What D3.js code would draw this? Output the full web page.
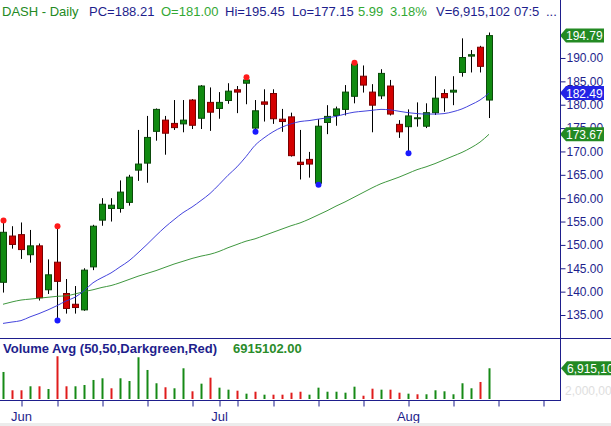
<!DOCTYPE html>
<html>
<head>
<meta charset="utf-8">
<script src="https://cdn.jsdelivr.net/npm/d3@7"></script>
<style>
  body { margin: 0; background: #fff; }
  svg { display: block; font-family: "Liberation Sans", Arial, sans-serif; }
</style>
</head>
<body>
<div id="chart"></div>
<script>
// trading days (2021), the last few are empty slots on the right of the chart
var days = ['05-27','05-28','06-01','06-02','06-03','06-04','06-07','06-08','06-09','06-10','06-11',
  '06-14','06-15','06-16','06-17','06-18','06-21','06-22','06-23','06-24','06-25','06-28','06-29','06-30',
  '07-01','07-02','07-06','07-07','07-08','07-09','07-12','07-13','07-14','07-15','07-16','07-19','07-20',
  '07-21','07-22','07-23','07-26','07-27','07-28','07-29','07-30','08-02','08-03','08-04','08-05','08-06',
  '08-09','08-10','08-11','08-12','08-13','08-16','08-17','08-18','08-19','08-20','08-23','08-24'];

var opens = [142.0,151.9,152.2,147.9,149.8,140.4,146.3,139.6,137.3,136.1,145.3,155.3,157.8,157.8,159.1,
  166.0,167.5,174.3,176.7,176.0,175.9,181.0,177.1,180.5,179.2,180.9,183.2,184.6,175.0,180.6,182.4,176.9,
  177.4,167.7,168.3,163.2,176.2,177.7,179.0,181.8,186.1,182.7,181.9,184.0,175.8,175.3,177.0,175.4,178.3,
  182.4,182.7,186.9,190.4,192.3,181.0];
var highs = [155.2,154.0,154.8,153.2,150.3,146.9,154.0,142.7,141.2,145.0,154.3,160.0,160.0,163.8,165.0,
  174.6,177.6,179.2,177.6,181.0,181.0,181.2,184.2,183.7,182.7,184.6,184.0,185.9,181.0,183.3,183.3,179.1,
  178.3,174.6,169.9,176.9,179.9,179.6,184.2,189.0,188.4,184.4,187.6,185.3,176.7,179.0,180.5,180.3,186.1,
  183.3,186.1,194.2,191.7,192.6,195.45];
var lows = [139.8,149.2,147.0,146.2,138.1,139.5,133.8,135.3,135.3,135.9,144.6,154.1,155.0,156.9,158.4,
  163.7,163.3,172.3,169.3,174.6,174.1,174.8,174.8,174.4,177.0,180.2,178.2,180.1,174.2,176.4,175.9,174.2,
  168.9,164.0,164.4,162.9,173.7,175.5,177.7,180.3,182.6,174.1,181.2,177.7,172.9,169.6,175.3,175.0,177.8,
  178.5,179.9,186.0,186.9,186.9,177.15];
var closes = [152.7,150.1,149.0,149.8,138.7,143.6,142.2,136.4,136.6,144.6,154.0,158.7,158.5,161.3,164.5,
  167.3,173.0,179.0,173.9,175.1,176.7,175.6,184.0,178.4,180.5,182.9,182.7,185.3,178.7,180.1,177.0,176.4,
  169.1,167.2,167.3,175.4,177.5,179.1,182.7,188.7,184.2,179.9,186.7,178.0,174.2,177.6,177.2,178.3,181.4,
  181.5,183.1,190.1,190.7,188.21,194.79];

// volume in millions of shares
var volumes = [6.08,1.96,1.96,2.86,2.86,2.25,9.62,2.86,2.86,3.15,4.28,4.66,2.41,4.66,4.05,9.39,6.53,3.54,
  2.64,2.41,6.91,1.73,3.45,4.80,2.55,2.10,1.87,1.20,1.64,0.97,0.97,0.97,1.42,1.64,0.97,2.55,1.64,1.64,1.42,
  2.77,0.74,2.32,2.10,2.10,1.42,1.20,1.06,1.06,1.96,1.73,1.06,3.54,2.41,3.83,6.915102];

// moving averages as drawn on the chart
var maBlue = [133.2,133.5,133.8,134.6,135.3,136.1,137.0,138.0,138.8,140.2,141.9,143.0,144.0,145.3,146.6,
  148.3,150.1,152.0,153.8,155.4,156.9,158.1,159.5,161.0,162.9,164.9,166.7,168.9,171.3,172.9,174.2,175.2,
  175.9,176.4,176.6,176.9,177.2,177.5,178.0,178.4,178.6,178.8,179.0,178.9,178.6,178.3,178.1,178.0,178.0,
  178.1,178.5,179.1,180.0,181.0,182.49];
var maGreen = [137.3,137.8,138.2,138.4,138.6,138.8,139.0,139.1,139.5,140.0,140.4,140.9,141.3,141.9,142.6,
  143.3,143.9,144.5,145.2,145.9,146.5,147.1,147.6,148.0,148.6,149.4,150.1,150.8,151.3,152.0,152.7,153.4,
  154.1,154.7,155.5,156.4,157.3,158.3,159.2,160.2,161.2,162.2,163.1,163.8,164.5,165.3,166.1,166.7,167.4,
  168.2,169.0,169.8,170.8,172.0,173.67];

var swingHighs = [0, 6, 27, 39];
var swingLows = [6, 28, 35, 45];

var priceTicks = [135,140,145,150,155,160,165,170,175,180,185,190];
var weekTicks = ['06-01','06-07','06-14','06-21','06-28','07-01','07-06','07-12','07-19','07-26',
  '08-02','08-09','08-16','08-23'];
var monthLabels = {'06-01': 'Jun', '07-01': 'Jul', '08-02': 'Aug'};

var navy = '#1e1e8c';
var upFill = '#108a10', upLine = '#0a4a0a';
var downFill = '#d40000', downLine = '#7a0000';

var width = 611, height = 426;
var axisX = 560;

var svg = d3.select('#chart').append('svg')
  .attr('width', width)
  .attr('height', height);

var x = d3.scalePoint()
  .domain(days)
  .range([3, 3 + 9 * (days.length - 1)]);

var y = d3.scaleLinear()
  .domain([130.08, 197.70])
  .range([338, 22]);

var yv = d3.scaleLinear()
  .domain([0, 9])
  .range([399, 359]);

var bars = closes.map(function (c, i) {
  return { day: days[i], o: opens[i], h: highs[i], l: lows[i], c: c, v: volumes[i],
    volUp: i === 0 ? true : c >= closes[i - 1] };
});

// header
var header = [
  { t: 'DASH - Daily', x: 2, c: '#238a23' },
  { t: 'PC=188.21', x: 89, c: navy },
  { t: 'O=181.00', x: 161, c: '#33a833' },
  { t: 'Hi=195.45', x: 225, c: navy },
  { t: 'Lo=177.15', x: 292, c: navy },
  { t: '5.99', x: 358, c: '#33a833' },
  { t: '3.18%', x: 390, c: '#33a833' },
  { t: 'V=6,915,102', x: 436, c: navy },
  { t: '07:5', x: 514, c: navy },
  { t: '...', x: 546, c: navy }
];
svg.append('g').selectAll('text')
  .data(header)
  .enter().append('text')
  .attr('x', function (d) { return d.x; })
  .attr('y', 16)
  .attr('font-size', 13)
  .attr('fill', function (d) { return d.c; })
  .text(function (d) { return d.t; });

// price panel
var price = svg.append('g');
var clip = svg.append('clipPath').attr('id', 'pclip')
  .append('rect').attr('x', 0).attr('y', 22).attr('width', axisX).attr('height', 316);
price.attr('clip-path', 'url(#pclip)');

price.selectAll('.wick')
  .data(bars)
  .enter().append('line')
  .attr('class', 'wick')
  .attr('x1', function (d) { return Math.round(x(d.day)) + 0.5; })
  .attr('x2', function (d) { return Math.round(x(d.day)) + 0.5; })
  .attr('y1', function (d) { return y(d.h); })
  .attr('y2', function (d) { return y(d.l); })
  .attr('stroke', '#000')
  .attr('stroke-width', 1);

price.selectAll('.body')
  .data(bars)
  .enter().append('rect')
  .attr('class', 'body')
  .attr('x', function (d) { return Math.round(x(d.day)) - 3 + 0.5; })
  .attr('width', 6)
  .attr('y', function (d) { return y(Math.max(d.o, d.c)); })
  .attr('height', function (d) { return Math.max(0.5, Math.abs(y(d.o) - y(d.c))); })
  .attr('fill', function (d) { return d.c >= d.o ? upFill : downFill; })
  .attr('stroke', function (d) { return d.c >= d.o ? upLine : downLine; })
  .attr('stroke-width', 1);

var line = function (vals) {
  return d3.line()
    .x(function (d, i) { return x(days[i]); })
    .y(function (d) { return y(d); })
    .curve(d3.curveMonotoneX)(vals);
};

price.append('path')
  .attr('d', line(maGreen))
  .attr('fill', 'none')
  .attr('stroke', '#2a8c2a')
  .attr('stroke-opacity', 0.9)
  .attr('stroke-width', 1);

price.append('path')
  .attr('d', line(maBlue))
  .attr('fill', 'none')
  .attr('stroke', '#3030d8')
  .attr('stroke-opacity', 0.9)
  .attr('stroke-width', 1);

price.selectAll('.hi')
  .data(swingHighs)
  .enter().append('circle')
  .attr('cx', function (i) { return Math.round(x(days[i])) + 0.5; })
  .attr('cy', function (i) { return y(highs[i]); })
  .attr('r', 3)
  .attr('fill', '#ff1a1a');

price.selectAll('.lo')
  .data(swingLows)
  .enter().append('circle')
  .attr('cx', function (i) { return Math.round(x(days[i])) + 0.5; })
  .attr('cy', function (i) { return y(lows[i]); })
  .attr('r', 3)
  .attr('fill', '#1a1aff');

// right price axis
var yAxis = d3.axisRight(y)
  .tickValues(priceTicks)
  .tickSize(5)
  .tickPadding(1)
  .tickFormat(d3.format('.2f'));

var ya = svg.append('g')
  .attr('transform', 'translate(' + (axisX + 0.5) + ',0)')
  .call(yAxis);
ya.select('.domain').remove();
ya.selectAll('line').attr('stroke', navy);
ya.selectAll('text')
  .attr('fill', navy)
  .attr('font-size', 12)
  .attr('font-family', '"Liberation Sans", Arial, sans-serif');

// last value tags
var tags = [
  { v: maGreen[maGreen.length - 1], c: '#238a23' },
  { v: maBlue[maBlue.length - 1], c: '#2323e6' },
  { v: closes[closes.length - 1], c: '#238a23' }
];
var tagG = svg.append('g').selectAll('g')
  .data(tags)
  .enter().append('g')
  .attr('transform', function (d) { return 'translate(' + axisX + ',' + y(d.v) + ')'; });
tagG.append('path')
  .attr('d', 'M0,0 L6,-7 L44,-7 L44,7 L6,7 Z')
  .attr('fill', function (d) { return d.c; });
tagG.append('text')
  .attr('x', 6)
  .attr('y', 4.5)
  .attr('font-size', 12)
  .attr('fill', '#fff')
  .text(function (d) { return d3.format('.2f')(d.v); });

// volume panel
svg.append('text')
  .attr('x', 3)
  .attr('y', 353)
  .attr('font-size', 13)
  .attr('font-weight', 'bold')
  .attr('fill', navy)
  .text('Volume Avg (50,50,Darkgreen,Red)');
svg.append('text')
  .attr('x', 233)
  .attr('y', 353)
  .attr('font-size', 13)
  .attr('font-weight', 'bold')
  .attr('fill', '#2a8c2a')
  .text(d3.format('.2f')(Math.round(volumes[volumes.length - 1] * 1e6)));

svg.selectAll('.vol')
  .data(bars)
  .enter().append('rect')
  .attr('class', 'vol')
  .attr('x', function (d) { return Math.round(x(d.day)) - 0.5; })
  .attr('width', 2)
  .attr('y', function (d) { return yv(d.v); })
  .attr('height', function (d) { return yv(0) - yv(d.v); })
  .attr('fill', function (d) { return d.volUp ? '#168a16' : '#e01c1c'; });

// ghost scale label and last volume tag
svg.append('text')
  .attr('x', axisX + 5)
  .attr('y', yv(2) + 4.5)
  .attr('font-size', 12)
  .attr('fill', '#dedede')
  .text(d3.format(',')(2000000));

var vt = svg.append('g')
  .attr('transform', 'translate(' + (axisX + 1) + ',' + yv(volumes[volumes.length - 1]) + ')');
vt.append('path')
  .attr('d', 'M0,0 L6,-7 L60,-7 L60,7 L6,7 Z')
  .attr('fill', '#238a23');
vt.append('text')
  .attr('x', 6)
  .attr('y', 4.5)
  .attr('font-size', 12)
  .attr('fill', '#fff')
  .text(d3.format(',')(Math.round(volumes[volumes.length - 1] * 1e6)));

// date axis
var xAxis = d3.axisBottom(x)
  .tickValues(weekTicks)
  .tickSize(6)
  .tickPadding(5)
  .tickFormat(function (d) { return monthLabels[d] || ''; });

var xa = svg.append('g')
  .attr('transform', 'translate(0,400.5)')
  .call(xAxis);
xa.select('.domain').remove();
xa.selectAll('line').attr('stroke', navy)
  .attr('transform', function (d) { return 'translate(' + (Math.round(x(d)) - x(d) + 0.5) + ',0)'; });
xa.selectAll('text')
  .attr('fill', navy)
  .attr('font-size', 13)
  .attr('font-family', '"Liberation Sans", Arial, sans-serif');

// frame lines
svg.append('line')
  .attr('x1', 0).attr('x2', width)
  .attr('y1', 338.5).attr('y2', 338.5)
  .attr('stroke', navy);
svg.append('line')
  .attr('x1', 0).attr('x2', axisX)
  .attr('y1', 400.5).attr('y2', 400.5)
  .attr('stroke', navy);
svg.append('line')
  .attr('x1', axisX + 0.5).attr('x2', axisX + 0.5)
  .attr('y1', 0).attr('y2', 401)
  .attr('stroke', navy);
svg.append('rect')
  .attr('x', 0).attr('y', 423)
  .attr('width', width).attr('height', 3)
  .attr('fill', '#ececec');
</script>
</body>
</html>
